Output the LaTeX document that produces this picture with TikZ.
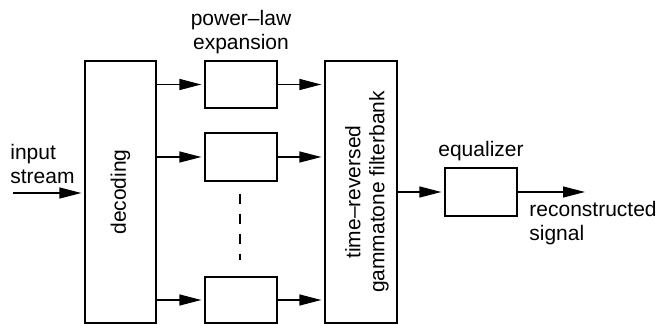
\documentclass[tikz,border=0pt]{standalone}
\usepackage{fontspec}
\setmainfont{Liberation Sans}
\usetikzlibrary{arrows.meta}
\begin{document}
\begin{tikzpicture}[x=0.5pt,y=-0.5pt,
  font=\fontsize{10.5}{12}\selectfont,
  blk/.style={draw, line width=0.65pt, inner sep=0pt},
  arr/.style={line width=0.65pt, shorten >=1.5pt, -{Triangle[length=11pt,width=5.5pt]}},
  lbl/.style={inner sep=0pt}]
\useasboundingbox (0,0) rectangle (658,325);
% main blocks
\node[blk, minimum width=35.5pt, minimum height=131pt] (dec) at (120.5,192) {};
\node[rotate=90, lbl] at (dec.center) {decoding};
\node[blk, minimum width=36pt, minimum height=131pt] (fb) at (361,192) {};
\node[rotate=90, lbl, align=center] at (367,192) {time–reversed\\gammatone filterbank};
% power-law expansion branches
\node[blk, minimum width=36pt, minimum height=23.5pt] (p1) at (241,84.5) {};
\node[blk, minimum width=36pt, minimum height=24pt] (p2) at (241,157) {};
\node[blk, minimum width=36pt, minimum height=23pt] (p3) at (241,300) {};
\node[lbl, align=center] (plt) at (241,32) {power–law\\expansion};
% equalizer
\node[blk, minimum width=36pt, minimum height=24pt] (eq) at (481,192) {};
\node[lbl] (eqt) at (481,151) {equalizer};
% inputs / outputs
\coordinate (in) at (13,193);
\coordinate (out) at (588,192);
\node[lbl, align=left, anchor=west] (int) at (10,164) {input\\stream};
\node[lbl, align=left, anchor=west] (outt) at (529,223) {reconstructed\\signal};
% connectors
\draw[arr] (in) -- (in -| dec.west);
\foreach \p in {p1,p2,p3}{
  \draw[arr] (dec.east |- \p.west) -- (\p.west);
  \draw[arr] (\p.east) -- (fb.west |- \p.east);
}
\draw[arr] (fb.east |- eq.west) -- (eq.west);
\draw[arr] (eq.east) -- (out);
% ellipsis between branches
\coordinate (d1) at (240,194);
\coordinate (d2) at (240,260);
\draw[line width=0.65pt, dash pattern=on 5pt off 5pt] (d1) -- (d2);
\end{tikzpicture}
\end{document}
